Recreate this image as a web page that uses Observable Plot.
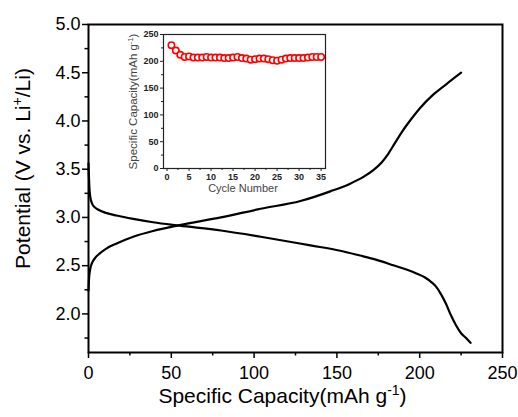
<!DOCTYPE html>
<html><head><meta charset="utf-8">
<script src="https://cdn.jsdelivr.net/npm/d3@7"></script>
<script src="https://cdn.jsdelivr.net/npm/@observablehq/plot@0.6"></script>
<style>
body{margin:0;background:#fff;}
#chart{position:relative;width:518px;height:417px;}
#chart svg{position:absolute;}
</style></head><body><div id="chart"></div>
<script>
// ---- main chart data ----
const chargeCap = [0, 0.3, 0.8, 1.5, 2.5, 4, 7, 11, 17, 27, 39, 55, 80, 104, 128, 146, 158, 166, 172, 177, 181, 185, 189, 194, 200, 208, 216, 225];
const chargeV   = [2.24, 2.36, 2.44, 2.50, 2.54, 2.58, 2.63, 2.68, 2.73, 2.80, 2.86, 2.92, 3.00, 3.09, 3.17, 3.27, 3.35, 3.42, 3.49, 3.57, 3.66, 3.77, 3.88, 4.00, 4.13, 4.27, 4.38, 4.50];
const dischargeCap = [0, 0.2, 0.5, 1, 2, 3.5, 6, 10, 17, 27, 39, 55, 80, 104, 134, 152, 164, 174, 184, 192, 198, 203, 207, 210, 213, 216, 219, 222, 225, 228, 230.7];
const dischargeV   = [3.56, 3.45, 3.32, 3.22, 3.15, 3.11, 3.08, 3.05, 3.02, 2.985, 2.95, 2.915, 2.865, 2.80, 2.71, 2.655, 2.605, 2.56, 2.505, 2.46, 2.42, 2.38, 2.33, 2.28, 2.20, 2.10, 1.98, 1.88, 1.80, 1.75, 1.70];
const xMajor = [0, 50, 100, 150, 200, 250];
const xMinor = [25, 75, 125, 175, 225];
const yMajor = [2.0, 2.5, 3.0, 3.5, 4.0, 4.5, 5.0];
const yMinor = [1.75, 2.25, 2.75, 3.25, 3.75, 4.25, 4.75];
const xLabel = ["Specific Capacity(mAh g", "-1", ")"];
const yLabel = ["Potential (V vs. Li", "+", "/Li)"];

// ---- inset data ----
const cycles = [1,2,3,4,5,6,7,8,9,10,11,12,13,14,15,16,17,18,19,20,21,22,23,24,25,26,27,28,29,30,31,32,33,34,35];
const cycleCap = [230,220,212,208,209,207,207,207,208,207,207,207,206,206,207,208,206,205,203,204,205,205,204,202,201,203,205,206,206,206,206,207,208,208,208];
const insetXMajor = [0,5,10,15,20,25,30,35];
const insetXMinor = [2.5,7.5,12.5,17.5,22.5,27.5,32.5];
const insetYMajor = [0,50,100,150,200,250];
const insetYMinor = [25,75,125,175,225];
const insetXLabel = "Cycle Number";
const insetYLabel = ["Specific Capacity(mAh g", "-1", ")"];

const charge = chargeCap.map((c, i) => ({cap: c, v: chargeV[i]}));
const discharge = dischargeCap.map((c, i) => ({cap: c, v: dischargeV[i]}));
const cyc = cycles.map((c, i) => ({n: c, cap: cycleCap[i]}));

const font = "'Liberation Sans', Arial, Helvetica, sans-serif";
const blank = () => "";

const main = Plot.plot({
  width: 518, height: 417,
  marginLeft: 88, marginRight: 16, marginTop: 24, marginBottom: 65,
  style: {fontFamily: font, fontSize: "18px", color: "#000", background: "white"},
  x: {domain: [0, 250]},
  y: {domain: [1.6, 5.0]},
  marks: [
    Plot.axisX(xMinor, {tickSize: 3.5, tickFormat: blank, label: null, strokeWidth: 1.5}),
    Plot.axisX(xMajor, {tickSize: 6, tickPadding: 8, tickFormat: d => String(d), label: null, strokeWidth: 1.5}),
    Plot.axisY(yMinor, {tickSize: 3.5, tickFormat: blank, label: null, strokeWidth: 1.5}),
    Plot.axisY(yMajor, {tickSize: 6, tickPadding: 2, tickFormat: d3.format(".1f"), label: null, strokeWidth: 1.5}),
    Plot.line(charge, {x: "cap", y: "v", curve: "monotone-x", stroke: "#000", strokeWidth: 2.2}),
    Plot.line(discharge, {x: "cap", y: "v", curve: "monotone-x", stroke: "#000", strokeWidth: 2.2}),
    Plot.frame({stroke: "#000", strokeWidth: 2}),
    Plot.text([xLabel.join("")], {frameAnchor: "bottom", textAnchor: "middle", dx: -13, dy: 44, fontSize: 21, lineAnchor: "middle", fill: "#000"}),
    Plot.text([yLabel.join("")], {frameAnchor: "left", textAnchor: "middle", rotate: -90, dx: -65, dy: -20, fontSize: 21, lineAnchor: "middle", fill: "#000"})
  ]
});

const inset = Plot.plot({
  width: 215, height: 170,
  marginLeft: 45, marginRight: 8, marginTop: 8, marginBottom: 28,
  style: {fontFamily: font, fontSize: "9px", color: "#222", background: "transparent", overflow: "visible"},
  x: {domain: [-0.8, 36]},
  y: {domain: [0, 250]},
  marks: [
    Plot.axisX(insetXMinor, {tickSize: 2, tickFormat: blank, label: null}),
    Plot.axisX(insetXMajor, {tickSize: 3, tickPadding: 2.5, fontWeight: "bold", label: null}),
    Plot.axisY(insetYMinor, {tickSize: 2, tickFormat: blank, label: null}),
    Plot.axisY(insetYMajor, {tickSize: 3, tickPadding: 2, fontWeight: "bold", label: null}),
    Plot.frame({stroke: "#222", strokeWidth: 1.2}),
    Plot.dot(cyc, {x: "n", y: "cap", r: 3.2, stroke: "#ff0000", strokeWidth: 1.6, fill: "#fff"}),
    Plot.text([insetXLabel], {frameAnchor: "bottom", textAnchor: "middle", dx: -1.5, dy: 19.5, fontSize: 11, lineAnchor: "middle", fill: "#444"}),
    Plot.text([insetYLabel.join("")], {frameAnchor: "left", textAnchor: "middle", rotate: -90, dx: -30, dy: 0, fontSize: 11.5, lineAnchor: "middle", fill: "#444"})
  ]
});

function supify(svg, parts, supSize, shift) {
  const full = parts.join("");
  d3.select(svg).selectAll("text").filter(function() { return this.textContent === full; }).each(function() {
    const t = d3.select(this);
    t.text(null);
    t.append("tspan").text(parts[0]);
    t.append("tspan").attr("font-size", supSize).attr("dy", -shift).text(parts[1]);
    t.append("tspan").attr("dy", shift).text(parts[2]);
  });
}
supify(main, xLabel, 14, 8);
supify(main, yLabel, 14, 8);
supify(inset, insetYLabel, 7.5, 4.5);

main.style.left = "0px"; main.style.top = "0px";
inset.style.left = "118px"; inset.style.top = "26px";
const chart = document.getElementById("chart");
chart.appendChild(main);
chart.appendChild(inset);
</script></body></html>
